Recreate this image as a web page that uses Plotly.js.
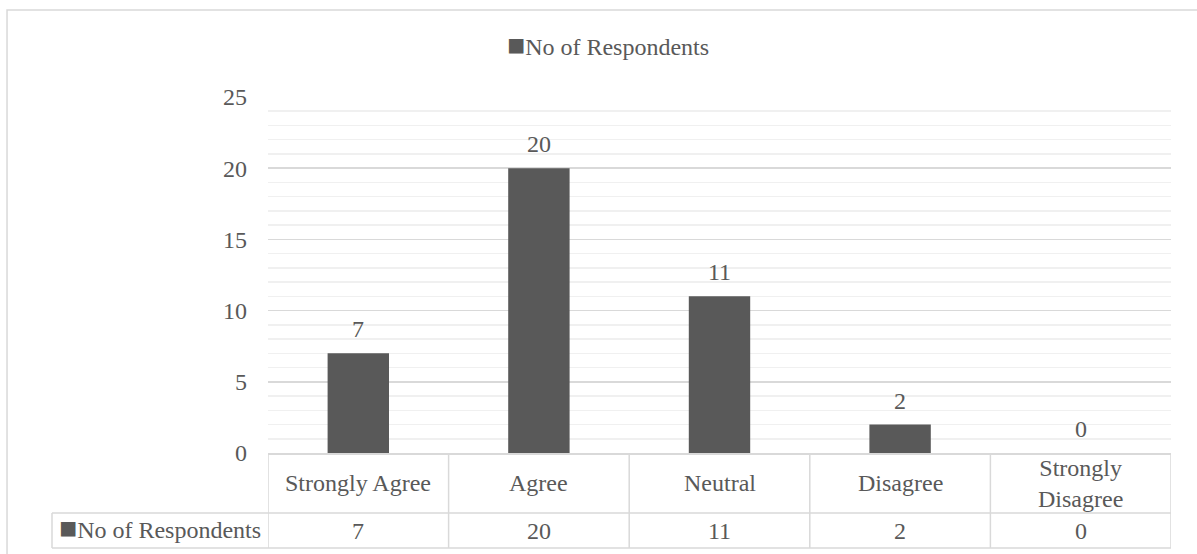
<!DOCTYPE html>
<html>
<head>
<meta charset="utf-8">
<script src="https://cdn.plot.ly/plotly-3.0.1.min.js"></script>
<style>
  html, body { margin: 0; padding: 0; background: #ffffff; }
  #chart { width: 1197px; height: 554px; }
</style>
</head>
<body>
<div id="chart"></div>
<script>
// Survey responses per answer option
const categories = ["Strongly Agree", "Agree", "Neutral", "Disagree", "Strongly Disagree"];
const tickLabels = ["Strongly Agree", "Agree", "Neutral", "Disagree", "Strongly<br>Disagree"];
const respondents = [7, 20, 11, 2, 0];
const seriesName = "No of Respondents";
const yTickValues = [0, 5, 10, 15, 20, 25];

const FONT = "Liberation Serif, Times New Roman, serif";
const TEXT = "#595959";
const BAR = "#595959";
const LINE = "#d9d9d9";

// Data-table geometry, in paper units below the plot area
const ROW1_MID = -0.0843;   // category row
const ROW_SPLIT = -0.1685;  // line between the two rows
const ROW2_MID = -0.2177;   // value row
const TABLE_BOTTOM = -0.2669;
const LABEL_LEFT = -0.2392;
const LABEL_MID = -0.1196;

// series key: a filled square followed by the series name
const keyText = '<span style="color:' + BAR + ';font-size:30px">\u25A0</span>' + seriesName;

const trace = {
  type: "bar",
  name: seriesName,
  x: categories,
  y: respondents,
  marker: { color: BAR },
  hoverinfo: "x+y"
};

const shapes = [];
// chart frame
shapes.push({ type: "rect", xref: "paper", yref: "paper",
  x0: -0.2890, x1: 1.04, y0: -0.31, y1: 1.2444,
  line: { color: LINE, width: 1.5 }, layer: "below" });
// table verticals at category boundaries
for (let i = 0; i <= categories.length; i++) {
  shapes.push({ type: "line", xref: "x", yref: "paper",
    x0: i - 0.5, x1: i - 0.5, y0: 0, y1: TABLE_BOTTOM,
    line: { color: LINE, width: 1.5 } });
}
// row-label cell left edge
shapes.push({ type: "line", xref: "paper", yref: "paper",
  x0: LABEL_LEFT, x1: LABEL_LEFT, y0: ROW_SPLIT, y1: TABLE_BOTTOM,
  line: { color: LINE, width: 1.5 } });
// table horizontals
[ROW_SPLIT, TABLE_BOTTOM].forEach(function (yy) {
  shapes.push({ type: "line", xref: "paper", yref: "paper",
    x0: LABEL_LEFT, x1: 1, y0: yy, y1: yy,
    line: { color: LINE, width: 1.5 } });
});

const annotations = [];
categories.forEach(function (cat, i) {
  // value label above each bar
  annotations.push({ xref: "x", yref: "y", x: cat, y: respondents[i],
    text: String(respondents[i]), showarrow: false,
    yanchor: "middle", yshift: 24,
    font: { family: FONT, size: 24, color: TEXT } });
  // category cell
  annotations.push({ xref: "x", yref: "paper", x: cat, y: ROW1_MID,
    text: tickLabels[i], showarrow: false, yanchor: "middle",
    font: { family: FONT, size: 24, color: TEXT } });
  // value cell
  annotations.push({ xref: "x", yref: "paper", x: cat, y: ROW2_MID,
    text: String(respondents[i]), showarrow: false, yanchor: "middle",
    font: { family: FONT, size: 24, color: TEXT } });
});
// row label of the data table
annotations.push({ xref: "paper", yref: "paper", x: LABEL_MID, y: ROW2_MID,
  text: keyText, showarrow: false, xanchor: "center", yanchor: "middle", yshift: 3,
  font: { family: FONT, size: 24, color: TEXT } });
// legend above the plot
annotations.push({ xref: "paper", yref: "paper", x: 0.3765, y: 1.1404,
  text: keyText, showarrow: false, xanchor: "center", yanchor: "middle", yshift: 3,
  font: { family: FONT, size: 24, color: TEXT } });

const layout = {
  width: 1197,
  height: 554,
  margin: { l: 268, r: 26, t: 97, b: 101, pad: 0 },
  paper_bgcolor: "#ffffff",
  plot_bgcolor: "#ffffff",
  bargap: 0.66,
  font: { family: FONT, size: 24, color: TEXT },
  showlegend: false,
  xaxis: {
    type: "category",
    categoryarray: categories,
    range: [-0.5, categories.length - 0.5],
    showticklabels: false,
    ticks: "",
    showgrid: false,
    zeroline: false,
    showline: true,
    linecolor: LINE,
    linewidth: 1.5,
    fixedrange: true
  },
  yaxis: {
    range: [0, 25],
    tickvals: yTickValues,
    ticks: "",
    ticklabelstandoff: 20,
    tickfont: { family: FONT, size: 24, color: TEXT },
    showgrid: true,
    gridcolor: LINE,
    gridwidth: 1.5,
    minor: { dtick: 1, showgrid: true, gridcolor: "#f0f0f0", gridwidth: 1.5 },
    zeroline: false,
    showline: false,
    fixedrange: true
  },
  shapes: shapes,
  annotations: annotations
};

Plotly.newPlot("chart", [trace], layout, { displayModeBar: false, staticPlot: true });
</script>
</body>
</html>
